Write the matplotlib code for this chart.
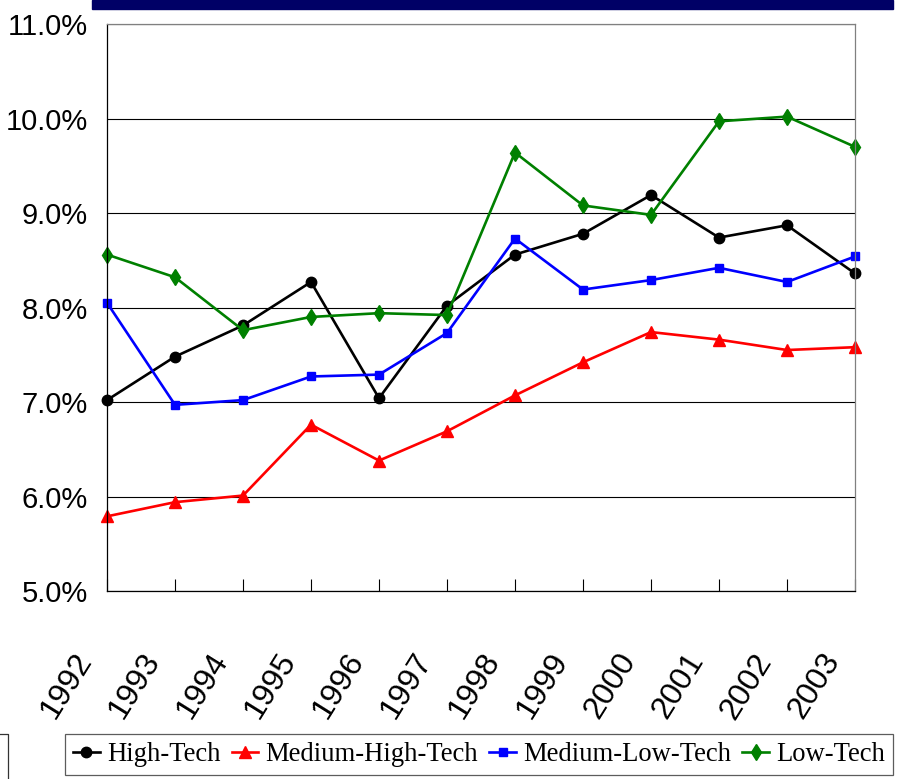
import matplotlib
matplotlib.use('Agg')
import matplotlib.pyplot as plt
from matplotlib.patches import Rectangle
from matplotlib.lines import Line2D
from matplotlib.transforms import ScaledTranslation

# ---------------------------------------------------

years = ['1992', '1993', '1994', '1995', '1996', '1997',
         '1998', '1999', '2000', '2001', '2002', '2003']
high_tech = [7.02, 7.48, 7.81, 8.27, 7.04, 8.02, 8.56, 8.78, 9.19, 8.74, 8.87, 8.36]
med_high_tech = [5.79, 5.94, 6.01, 6.76, 6.38, 6.69, 7.07, 7.42, 7.74, 7.66, 7.55, 7.58]
med_low_tech = [8.05, 6.97, 7.02, 7.27, 7.29, 7.73, 8.73, 8.19, 8.29, 8.42, 8.27, 8.54]
low_tech = [8.56, 8.32, 7.76, 7.90, 7.94, 7.92, 9.64, 9.08, 8.98, 9.97, 10.02, 9.70]
y_ticks = [5, 6, 7, 8, 9, 10, 11]

# ---------------------------------------------------

sans = 'Liberation Sans'

W, H = 903, 779
fig = plt.figure(figsize=(W / 100, H / 100), dpi=100)
ax = fig.add_axes([107 / W, 1 - 591 / H, 748 / W, 567 / H])

x = list(range(len(years)))
ax.plot(x, high_tech, color='black', marker='o', ms=7.5, lw=1.9, clip_on=False, label='High-Tech')
ax.plot(x, med_high_tech, color='#ff0000', marker='^', ms=8.5, lw=1.9, clip_on=False, label='Medium-High-Tech')
ax.plot(x, med_low_tech, color='#0000ff', marker='s', ms=6, lw=1.9, clip_on=False, label='Medium-Low-Tech')
ax.plot(x, low_tech, color='#008000', marker='d', ms=8.5, lw=1.9, clip_on=False, label='Low-Tech')

ax.set_xlim(0, len(years) - 1)
ax.set_ylim(5, 11)
ax.set_yticks(y_ticks)
ax.set_yticklabels(['%.1f%%' % v for v in y_ticks], fontfamily=sans, fontsize=21)
ax.set_xticks(x)
ax.set_xticklabels(years, fontfamily=sans, fontsize=23, rotation=58,
                   ha='right', va='top')
ax.tick_params(axis='x', direction='in', length=9, width=0.8, pad=41)
ax.tick_params(axis='y', length=0, pad=14)
shift = ScaledTranslation(-9 / 100, 0, fig.dpi_scale_trans)
for lab in ax.get_xticklabels():
    lab.set_transform(lab.get_transform() + shift)

ax.grid(axis='y', color='black', lw=0.8)
ax.set_axisbelow(True)
for s in ['left', 'bottom']:
    ax.spines[s].set_color('black')
    ax.spines[s].set_linewidth(0.9)
for s in ['top', 'right']:
    ax.spines[s].set_color('#808080')
    ax.spines[s].set_linewidth(0.9)

# navy bar at top and cut-off box at lower left
fig.patches.append(Rectangle((92 / W, 1 - 8.5 / H), 801 / W, 8.5 / H,
                             transform=fig.transFigure, color='#000066'))
fig.lines.append(Line2D([0, 8 / W, 8 / W], [1 - 734 / H, 1 - 734 / H, 0],
                        transform=fig.transFigure, color='#333333', lw=0.9))

leg = fig.legend(loc='upper left', bbox_to_anchor=(65 / W, 1 - 734 / H), ncol=4,
                 prop={'family': 'Liberation Serif', 'size': 19.2},
                 frameon=True, fancybox=False, edgecolor='#333333',
                 handlelength=1.0, handletextpad=0.27, columnspacing=0.42,
                 borderpad=0.3, borderaxespad=0)
leg.get_frame().set_linewidth(0.9)

fig.savefig('out.png', dpi=100)
